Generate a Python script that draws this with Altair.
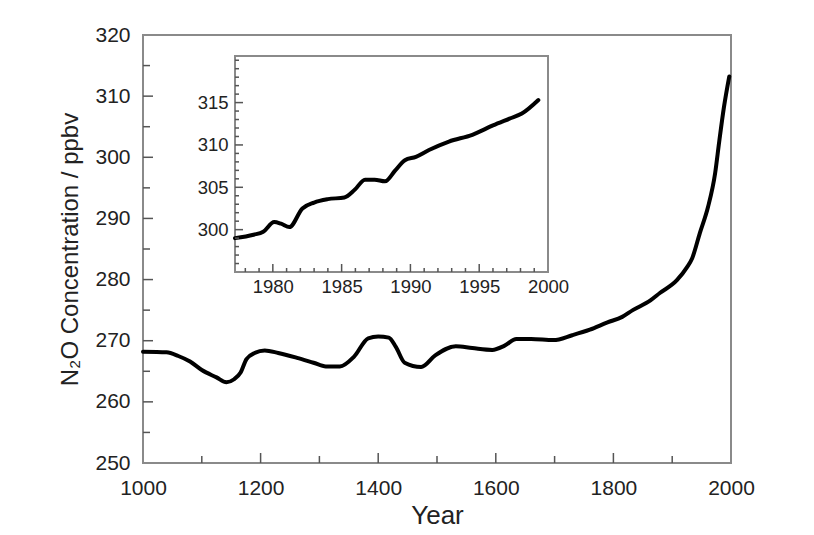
import altair as alt
import pandas as pd

# ---- main series (N2O concentration, ppbv) ----
main_years = [1000, 1040, 1060, 1080, 1100, 1125, 1142, 1155, 1166, 1176, 1190, 1207,
              1230, 1262, 1290, 1311, 1335, 1359, 1383, 1400, 1418, 1430, 1445, 1473,
              1497, 1532, 1560, 1594, 1615, 1635, 1660, 1698, 1730, 1760, 1790, 1815,
              1833, 1863, 1879, 1908, 1925, 1934, 1947, 1961, 1973, 1980, 1988, 1997]
main_vals = [268.2, 268.1, 267.5, 266.6, 265.2, 264.0, 263.2, 263.7, 264.8, 267.0, 268.0, 268.4,
             268.0, 267.2, 266.4, 265.8, 265.8, 267.4, 270.4, 270.7, 270.5, 269.0, 266.4, 265.7,
             267.6, 269.1, 268.8, 268.5, 269.2, 270.3, 270.3, 270.1, 270.9, 271.8, 273.0, 273.9,
             275.0, 276.6, 277.8, 279.9, 282.0, 283.5, 287.6, 291.9, 297.4, 302.6, 308.2, 313.2]

# ---- inset series ----
inset_years = [1977.25, 1978.6, 1979.3, 1980.1, 1980.6, 1981.2, 1982.15, 1983.0, 1984.0,
               1985.2, 1985.95, 1986.7, 1987.4, 1988.15, 1988.9, 1989.6, 1990.4, 1991.35,
               1992.8, 1994.5, 1996.0, 1997.2, 1998.1, 1999.3]
inset_vals = [299.0, 299.4, 299.75, 300.9, 300.7, 300.3, 302.5, 303.2, 303.6,
              303.8, 304.7, 305.9, 305.9, 305.7, 307.0, 308.2, 308.6, 309.4,
              310.4, 311.2, 312.3, 313.1, 313.7, 315.3]

# ---- axis ticks / labels ----
main_x_labels = [1000, 1200, 1400, 1600, 1800, 2000]
main_x_major = [1200, 1400, 1600, 1800]
main_x_minor = [1100, 1300, 1500, 1700, 1900]
main_y_labels = [250, 260, 270, 280, 290, 300, 310, 320]
main_y_major = [260, 270, 280, 290, 300, 310]
main_y_minor = [255, 265, 275, 285, 295, 305, 315]

inset_x_labels = [1980, 1985, 1990, 1995, 2000]
inset_x_major = [1980, 1985, 1990, 1995]
inset_x_minor = [1978, 1979, 1981, 1982, 1983, 1984, 1986, 1987, 1988, 1989, 1991,
                 1992, 1993, 1994, 1996, 1997, 1998, 1999]
inset_y_labels = [300, 305, 310, 315]
inset_y_major = [300, 305, 310, 315]
inset_y_minor = [296, 297, 298, 299, 301, 302, 303, 304, 306, 307, 308, 309, 311,
                 312, 313, 314, 316, 317, 318, 319, 320]

main_x_domain = [1000, 2000]
main_y_domain = [250, 320]
inset_x_domain = [1977.25, 2000]
inset_y_domain = [295, 320.5]

W, H = 588, 428
INSET_X = [92, 405]     # pixel range of the inset inside the plot area
INSET_Y = [237, 21]
GRAY = "#8a8a8a"
TICK = "#555555"
TXT = "#222222"
FONT = "Liberation Sans"

xs = alt.Scale(domain=main_x_domain, range=[0, W], nice=False, zero=False)
ys = alt.Scale(domain=main_y_domain, range=[H, 0], nice=False, zero=False)
xi = alt.Scale(domain=inset_x_domain, range=INSET_X, nice=False, zero=False)
yi = alt.Scale(domain=inset_y_domain, range=INSET_Y, nice=False, zero=False)

main_df = pd.DataFrame({"year": main_years, "ppbv": main_vals})
inset_df = pd.DataFrame({"year": inset_years, "ppbv": inset_vals})


def vticks(vals, scale, y0, length):
    return alt.Chart(pd.DataFrame({"v": vals})).mark_rule(color=TICK, strokeWidth=1.5).encode(
        x=alt.X("v:Q", scale=scale, axis=None),
        y=alt.value(y0), y2=alt.value(y0 - length))


def hticks(vals, scale, x0, length):
    return alt.Chart(pd.DataFrame({"v": vals})).mark_rule(color=TICK, strokeWidth=1.5).encode(
        y=alt.Y("v:Q", scale=scale, axis=None),
        x=alt.value(x0), x2=alt.value(x0 + length))


main_line = alt.Chart(main_df).mark_line(
    color="black", strokeWidth=4, interpolate="monotone", strokeCap="round"
).encode(
    x=alt.X("year:Q", scale=xs, axis=alt.Axis(
        orient="bottom", values=main_x_labels, format="d", ticks=False, domain=False, grid=False,
        labelFlush=False, labelFontSize=21, labelPadding=14, labelColor=TXT, labelFont=FONT,
        title="Year", titleFontSize=26, titleFont=FONT, titleFontWeight="normal",
        titleColor=TXT, titlePadding=4)),
    y=alt.Y("ppbv:Q", scale=ys, axis=alt.Axis(
        orient="left", values=main_y_labels, format="d", ticks=False, domain=False, grid=False,
        labelFlush=False, labelFontSize=21, labelPadding=13, labelColor=TXT, labelFont=FONT,
        title="N₂O Concentration / ppbv", titleFontSize=24, titleFont=FONT,
        titleFontWeight="normal", titleColor=TXT, titlePadding=12)),
)

inset_box = alt.Chart(main_df.head(1)).mark_rect(
    fill="white", stroke=GRAY, strokeWidth=2
).encode(
    x=alt.X(datum=inset_x_domain[0], scale=xi, axis=None),
    x2=alt.X2(datum=inset_x_domain[1]),
    y=alt.Y(datum=inset_y_domain[0], scale=yi, axis=None),
    y2=alt.Y2(datum=inset_y_domain[1]),
)

inset_line = alt.Chart(inset_df).mark_line(
    color="black", strokeWidth=4, interpolate="monotone", strokeCap="round"
).encode(
    x=alt.X("year:Q", scale=xi, axis=alt.Axis(
        orient="bottom", offset=-(H - INSET_Y[0]), values=inset_x_labels, format="d",
        ticks=False, domain=False, grid=False, labelFlush=False, labelFontSize=18.5,
        labelPadding=5, labelColor=TXT, labelFont=FONT, title=None)),
    y=alt.Y("ppbv:Q", scale=yi, axis=alt.Axis(
        orient="left", offset=-INSET_X[0], values=inset_y_labels, format="d",
        ticks=False, domain=False, grid=False, labelFlush=False, labelFontSize=18.5,
        labelPadding=7, labelColor=TXT, labelFont=FONT, title=None)),
)

chart = alt.layer(
    main_line,
    vticks(main_x_major, xs, H, 10),
    vticks(main_x_minor, xs, H, 7),
    hticks(main_y_major, ys, 0, 10),
    hticks(main_y_minor, ys, 0, 7),
    inset_box,
    inset_line,
    vticks(inset_x_major, xi, INSET_Y[0], 8),
    vticks(inset_x_minor, xi, INSET_Y[0], 4),
    hticks(inset_y_major, yi, INSET_X[0], 8),
    hticks(inset_y_minor, yi, INSET_X[0], 4),
).resolve_scale(
    x="independent", y="independent"
).properties(
    width=W, height=H,
    autosize=alt.AutoSizeParams(type="none"),
    padding={"left": 143, "top": 35, "right": 83, "bottom": 72},
    background="white",
).configure_view(stroke=GRAY, strokeWidth=2)

chart.save("out.html", embed_options={"renderer": "svg", "actions": False})
